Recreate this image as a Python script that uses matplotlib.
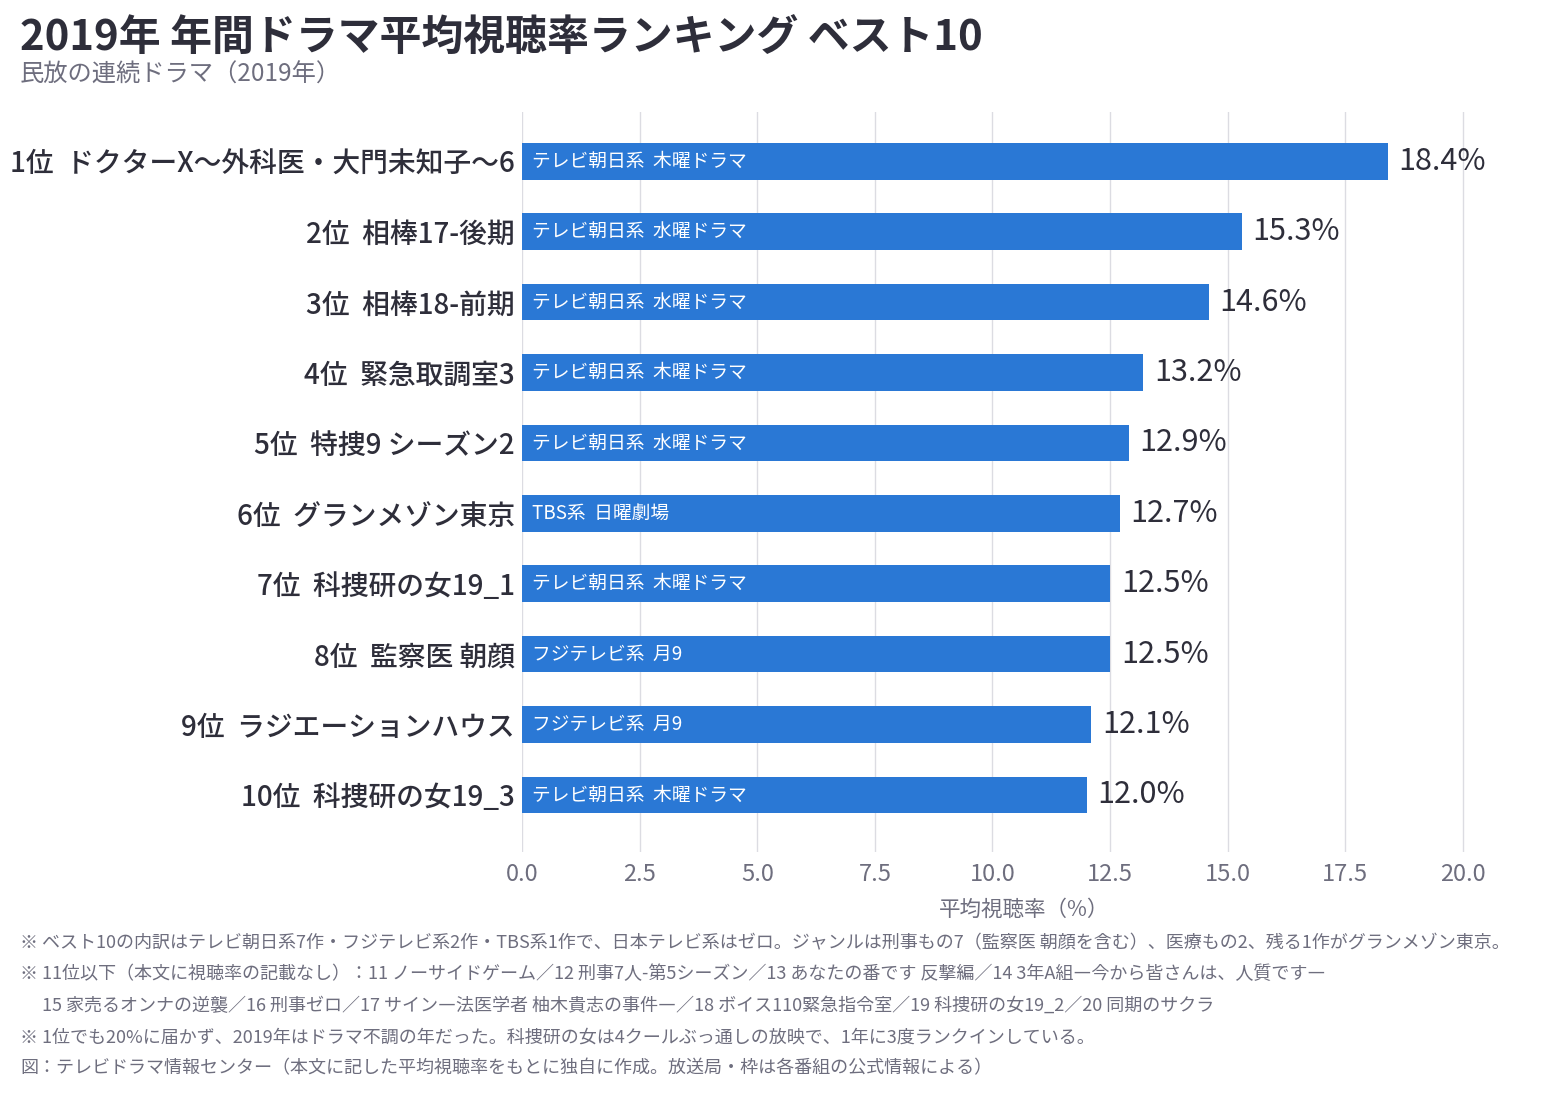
import numpy as np
import matplotlib.pyplot as plt

plt.rcParams['font.family'] = ['Noto Sans CJK JP', 'DejaVu Sans']

# -------------------------
# Data
# -------------------------
ranks = ["1位", "2位", "3位", "4位", "5位", "6位", "7位", "8位", "9位", "10位"]
titles = ["ドクターX～外科医・大門未知子～6", "相棒17-後期", "相棒18-前期", "緊急取調室3",
          "特捜9 シーズン2", "グランメゾン東京", "科捜研の女19_1", "監察医 朝顔",
          "ラジエーションハウス", "科捜研の女19_3"]
slots = ["テレビ朝日系  木曜ドラマ", "テレビ朝日系  水曜ドラマ", "テレビ朝日系  水曜ドラマ",
         "テレビ朝日系  木曜ドラマ", "テレビ朝日系  水曜ドラマ", "TBS系  日曜劇場",
         "テレビ朝日系  木曜ドラマ", "フジテレビ系  月9", "フジテレビ系  月9",
         "テレビ朝日系  木曜ドラマ"]
ratings = [18.4, 15.3, 14.6, 13.2, 12.9, 12.7, 12.5, 12.5, 12.1, 12.0]
xticks = [0.0, 2.5, 5.0, 7.5, 10.0, 12.5, 15.0, 17.5, 20.0]

notes = [
    "※ ベスト10の内訳はテレビ朝日系7作・フジテレビ系2作・TBS系1作で、日本テレビ系はゼロ。ジャンルは刑事もの7（監察医 朝顔を含む）、医療もの2、残る1作がグランメゾン東京。",
    "※ 11位以下（本文に視聴率の記載なし）：11 ノーサイドゲーム／12 刑事7人-第5シーズン／13 あなたの番です 反撃編／14 3年A組―今から皆さんは、人質です―",
    "　 15 家売るオンナの逆襲／16 刑事ゼロ／17 サイン―法医学者 柚木貴志の事件―／18 ボイス110緊急指令室／19 科捜研の女19_2／20 同期のサクラ",
    "※ 1位でも20%に届かず、2019年はドラマ不調の年だった。科捜研の女は4クールぶっ通しの放映で、1年に3度ランクインしている。",
    "図：テレビドラマ情報センター（本文に記した平均視聴率をもとに独自に作成。放送局・枠は各番組の公式情報による）",
]

BAR = "#2a78d5"
DARK = "#2e2e3a"
GREY = "#6e6e7e"

fig = plt.figure(figsize=(15.5, 11.2), dpi=100)
# x range runs a bit past the last gridline so the value labels have room
ax = fig.add_axes([0.3368, 0.2393, 0.6477, 0.9 - 0.2393])

y = np.arange(len(ratings))
ax.barh(y, ratings, height=0.52, color=BAR, zorder=2)
ax.set_xlim(0, 21.34)
ax.set_ylim(9.81, -0.70)

for i, (r, s) in enumerate(zip(ratings, slots)):
    ax.text(0.22, i, s, color="white", fontsize=13.5, va="center", ha="left", zorder=3)
    ax.text(r + 0.23, i, f"{r:.1f}%", color=DARK, fontsize=22, va="center", ha="left",
            clip_on=False)

ax.set_yticks(y)
ax.set_yticklabels([f"{a}  {t}" for a, t in zip(ranks, titles)], fontsize=20,
                   color=DARK, fontweight="medium")
ax.set_xticks(xticks)
ax.set_xticklabels([f"{v:.1f}" for v in xticks], fontsize=17, color=GREY)
ax.tick_params(axis="both", length=0)
ax.tick_params(axis="x", pad=8)
ax.tick_params(axis="y", pad=5)
ax.set_xlabel("平均視聴率（%）", fontsize=15.5, color=GREY, labelpad=9)

ax.grid(axis="x", color="#dcdce2", linewidth=1, zorder=0)
for sp in ax.spines.values():
    sp.set_visible(False)

fig.text(0.013, 0.965, "2019年 年間ドラマ平均視聴率ランキング ベスト10", fontsize=30.2,
         fontweight="bold", color=DARK, va="center")
fig.text(0.013, 0.933, "民放の連続ドラマ（2019年）", fontsize=17.5, color=GREY, va="center")

note_y = [0.158, 0.130, 0.102, 0.074, 0.046]
for ny, n in zip(note_y, notes):
    fig.text(0.013, ny, n, fontsize=13, color=GREY, va="center")

fig.savefig("out.png", dpi=100, facecolor="white")
